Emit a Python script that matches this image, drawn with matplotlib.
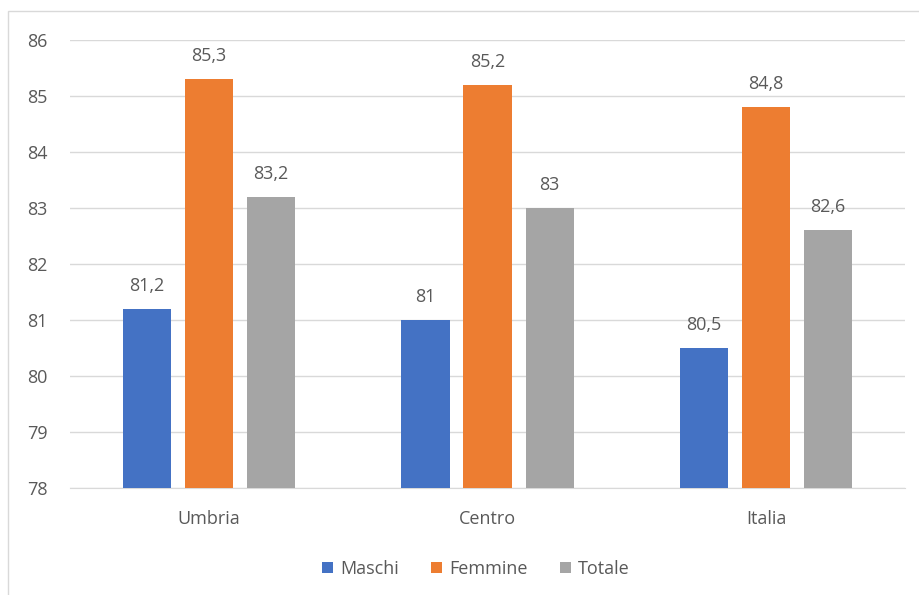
import numpy as np
import matplotlib.pyplot as plt
from matplotlib.patches import Rectangle

plt.rcParams['font.family'] = ['Open Sans', 'DejaVu Sans']

categorie = ['Umbria', 'Centro', 'Italia']
maschi = [81.2, 81.0, 80.5]
femmine = [85.3, 85.2, 84.8]
totale = [83.2, 83.0, 82.6]
etichette_m = ['81,2', '81', '80,5']
etichette_f = ['85,3', '85,2', '84,8']
etichette_t = ['83,2', '83', '82,6']

testo = '#595959'
fs = 13
fig = plt.figure(figsize=(9.19, 5.95), dpi=100)
ax = fig.add_axes([0.076, 0.180, 0.909, 0.753])

# bordo del grafico (come in Excel)
fig.add_artist(Rectangle((8 / 919, -0.1), 1.2, 1 - 11 / 595 + 0.1, transform=fig.transFigure,
                         fill=False, edgecolor='#D9D9D9', linewidth=1))

x = np.arange(len(categorie))
w = 0.173
off = 0.223
serie = [(maschi, etichette_m, '#4472C4', 'Maschi', -off),
         (femmine, etichette_f, '#ED7D31', 'Femmine', 0),
         (totale, etichette_t, '#A5A5A5', 'Totale', off)]
for vals, labs, col, nome, d in serie:
    bars = ax.bar(x + d, np.array(vals) - 78, w, bottom=78, color=col, label=nome, zorder=3)
    for b, v, l in zip(bars, vals, labs):
        ax.text(b.get_x() + b.get_width() / 2, v + 0.25, l, ha='center', va='bottom',
                fontsize=fs, color=testo)

ax.set_xlim(-0.5, 2.5)
ax.set_ylim(78, 86)
ax.set_yticks(range(78, 87))
ax.set_xticks(x)
ax.set_xticklabels(categorie)
ax.grid(axis='y', color='#D9D9D9', linewidth=1, zorder=0)
for s in ['top', 'right', 'left']:
    ax.spines[s].set_visible(False)
ax.spines['bottom'].set_color('#D9D9D9')
ax.tick_params(axis='both', length=0, labelsize=fs, labelcolor=testo)
ax.tick_params(axis='x', pad=16)
ax.tick_params(axis='y', pad=16)

ax.legend(loc='center', bbox_to_anchor=(476 / 919, 1 - 569 / 595), bbox_transform=fig.transFigure,
          ncol=3, frameon=False, fontsize=fs, labelcolor=testo, handlelength=0.6,
          handleheight=0.6, handletextpad=0.4, columnspacing=1.8)

fig.savefig('out.png', dpi=100, facecolor='white')
